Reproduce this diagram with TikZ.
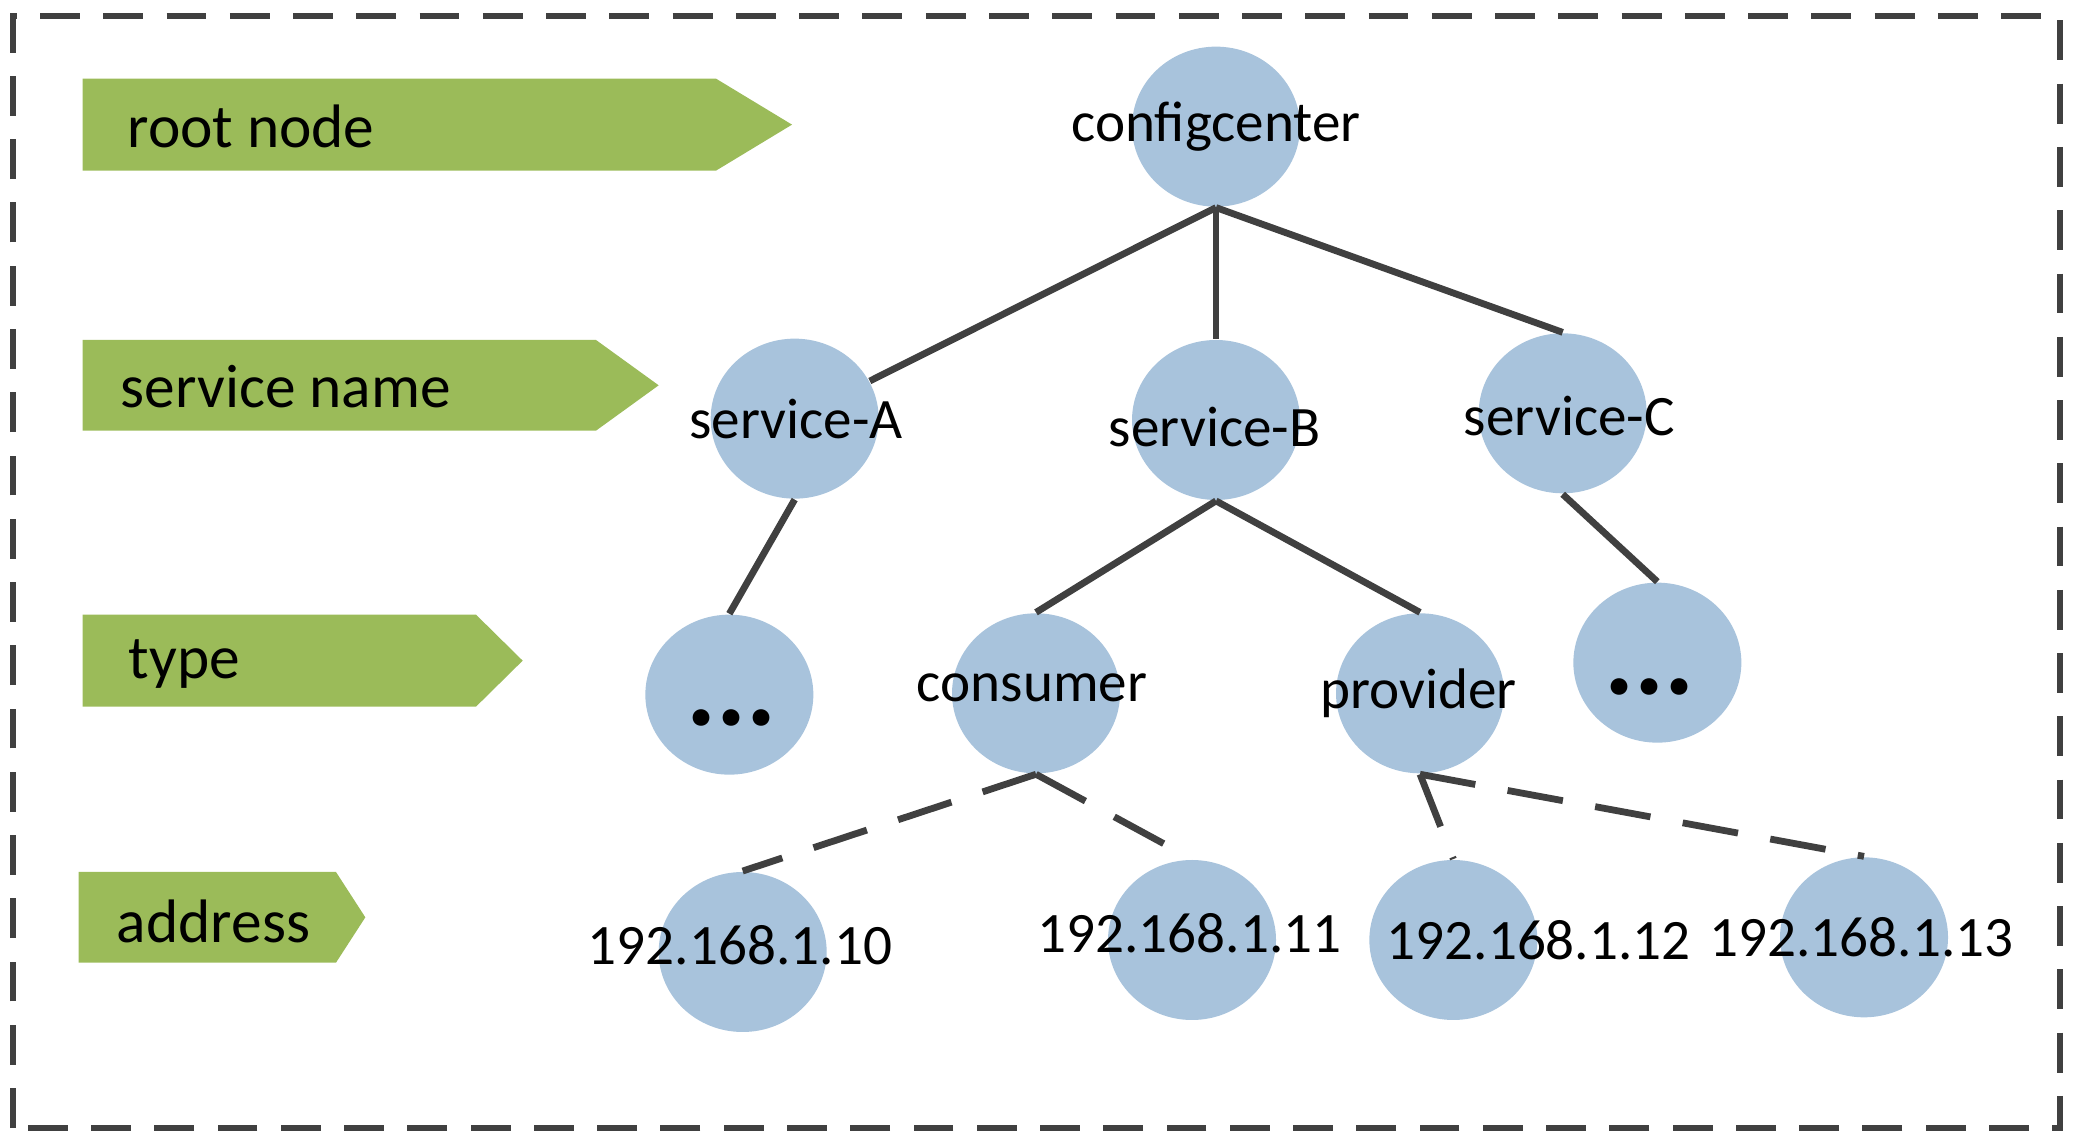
\documentclass[tikz,border=0pt]{standalone}
\usepackage{fontspec}
\setmainfont{Carlito}
\usetikzlibrary{shapes.geometric}

\definecolor{bannergreen}{HTML}{9BBB59}
\definecolor{nodeblue}{HTML}{A8C3DC}
\definecolor{linegray}{HTML}{404040}

\begin{document}
\begin{tikzpicture}[
            treenode/.style = {ellipse, fill = nodeblue, minimum width = 1.26cm, minimum height = 1.20cm, inner sep = 0pt},
            nodetext/.style = {font = \fontsize{12.2}{14}\selectfont, inner sep = 0pt},
            dotstext/.style = {font = \fontsize{24}{24}\selectfont\bfseries, inner sep = 0pt, anchor = base},
            bannertext/.style = {font = \fontsize{13.1}{15}\selectfont, inner sep = 0pt, anchor = west},
            banner/.style = {fill = bannergreen},
            link/.style = {draw = linegray, line width = 1.45pt},
            dashlink/.style = {link, dash pattern = on 12pt off 7pt},
            frame/.style = {draw = linegray, line width = 1.25pt, dash pattern = on 8.5pt off 5pt}
        ]

        \useasboundingbox (0,0) rectangle (15.6,8.58);
        \draw[frame] (0.10,0.12) rectangle (15.45,8.46);

        % level banners
        \fill[banner] (0.62,7.30) -- (5.37,7.30) -- (5.94,7.645) -- (5.37,7.99) -- (0.62,7.99) -- cycle;
        \fill[banner] (0.62,5.35) -- (4.47,5.35) -- (4.94,5.69) -- (4.47,6.03) -- (0.62,6.03) -- cycle;
        \fill[banner] (0.62,3.28) -- (3.57,3.28) -- (3.92,3.625) -- (3.57,3.97) -- (0.62,3.97) -- cycle;
        \fill[banner] (0.59,1.36) -- (2.52,1.36) -- (2.74,1.70) -- (2.52,2.04) -- (0.59,2.04) -- cycle;
        \node[bannertext] (lroot) at (0.95,7.63) {root node};
        \node[bannertext] (lservice) at (0.90,5.68) {service name};
        \node[bannertext] (ltype) at (0.96,3.60) {type};
        \node[bannertext] (laddress) at (0.87,1.67) {address};

        % tree
        \node[treenode] (cc) at (9.12,7.63) {};
        \node[treenode] (sA) at (5.96,5.44) {};
        \node[treenode] (sB) at (9.12,5.43) {};
        \node[treenode] (sC) at (11.72,5.48) {};
        \node[treenode] (dA) at (5.47,3.37) {};
        \node[treenode] (cons) at (7.77,3.38) {};
        \node[treenode] (prov) at (10.65,3.38) {};
        \node[treenode] (dC) at (12.43,3.61) {};
        \node[treenode] (a10) at (5.57,1.44) {};
        \node[treenode] (a11) at (8.94,1.53) {};
        \node[treenode] (a12) at (10.90,1.53) {};
        \node[treenode] (a13) at (13.98,1.55) {};

        \node[nodetext] (tcc) at (9.12,7.63) {configcenter};
        \node[nodetext] (tsA) at (5.97,5.44) {service-A};
        \node[nodetext] (tsB) at (9.11,5.38) {service-B};
        \node[nodetext] (tsC) at (11.77,5.46) {service-C};
        \node[dotstext] (tdA) at (5.485,3.14) {...};
        \node[nodetext] (tcons) at (7.74,3.42) {consumer};
        \node[nodetext] (tprov) at (10.64,3.38) {provider};
        \node[dotstext] (tdC) at (12.37,3.37) {...};
        \node[nodetext] (ta10) at (5.55,1.49) {192.168.1.10};
        \node[nodetext] (ta11) at (8.92,1.58) {192.168.1.11};
        \node[nodetext] (ta12) at (11.54,1.53) {192.168.1.12};
        \node[nodetext] (ta13) at (13.96,1.55) {192.168.1.13};

        \draw[link] (cc.south) -- (sA);
        \draw[link] (cc.south) -- (sB.north);
        \draw[link] (cc.south) -- (sC.north);
        \draw[link] (sA.south) -- (dA.north);
        \draw[link] (sB.south) -- (cons.north);
        \draw[link] (sB.south) -- (prov.north);
        \draw[link] (sC.south) -- (dC.north);
        \draw[dashlink] (cons.south) -- (a10.north);
        \draw[dashlink] (cons.south) -- (a11.north);
        \draw[dashlink] (prov.south) -- (a12.north);
        \draw[dashlink] (prov.south) -- (a13.north);

    \end{tikzpicture}
\end{document}
